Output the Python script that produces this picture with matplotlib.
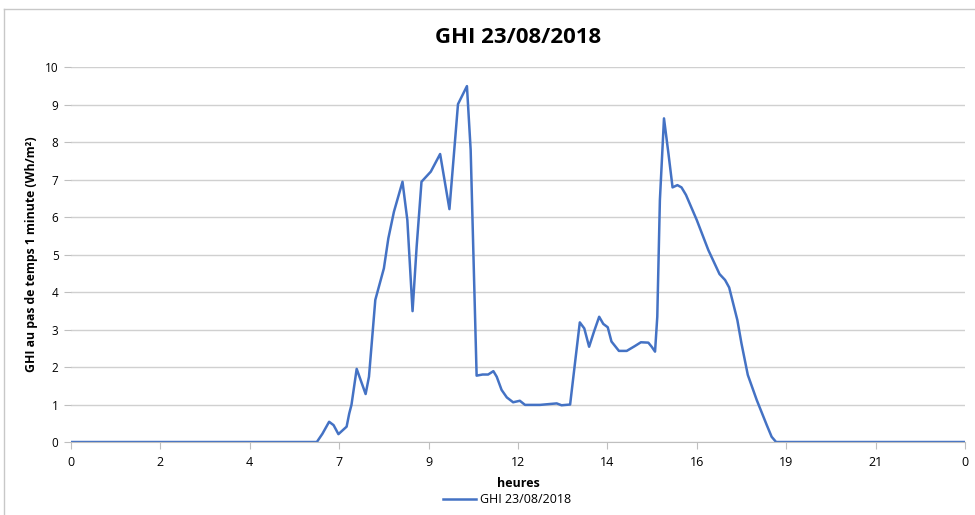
import matplotlib
matplotlib.use("Agg")
import matplotlib.pyplot as plt
from matplotlib.lines import Line2D
from matplotlib import font_manager

# GHI values (Wh/m2 per minute), time in hours
heures = [0.0, 6.60, 6.75, 6.93, 7.05, 7.18, 7.40, 7.47, 7.53, 7.67, 7.91,
          8.00, 8.17, 8.40, 8.52, 8.67, 8.90, 9.03, 9.17, 9.28, 9.41, 9.66,
          9.91, 10.16, 10.29, 10.39, 10.63, 10.73, 10.89, 11.05, 11.20, 11.34,
          11.43, 11.56, 11.70, 11.87, 12.05, 12.19, 12.59, 13.04, 13.17,
          13.40, 13.53, 13.66, 13.78, 13.91, 14.04, 14.18, 14.29, 14.41,
          14.51, 14.71, 14.92, 15.14, 15.30, 15.50, 15.59, 15.68, 15.74,
          15.81, 15.92, 16.04, 16.15, 16.28, 16.39, 16.51, 16.80, 17.11,
          17.41, 17.56, 17.67, 17.89, 18.00, 18.17, 18.41, 18.68, 18.81,
          18.93, 24.0]
ghi = [0.0, 0.0, 0.22, 0.54, 0.45, 0.21, 0.41, 0.76, 0.99, 1.95, 1.28,
       1.74, 3.79, 4.63, 5.43, 6.14, 6.94, 5.92, 3.49, 5.21, 6.94, 7.21,
       7.68, 6.21, 7.79, 9.01, 9.49, 7.79, 1.77, 1.80, 1.80, 1.89,
       1.74, 1.39, 1.19, 1.06, 1.10, 0.99, 0.99, 1.03, 0.98,
       1.00, 2.10, 3.19, 3.03, 2.54, 2.94, 3.34, 3.15, 3.06,
       2.68, 2.43, 2.43, 2.56, 2.66, 2.65, 2.54, 2.41, 3.34,
       6.45, 8.63, 7.69, 6.79, 6.85, 6.79, 6.59, 5.92, 5.12,
       4.48, 4.32, 4.12, 3.25, 2.63, 1.79, 1.12, 0.45, 0.14,
       0.0, 0.0]

tick_pos = [0, 2.4, 4.8, 7.2, 9.6, 12, 14.4, 16.8, 19.2, 21.6, 24]
tick_labels = ['0', '2', '4', '7', '9', '12', '14', '16', '19', '21', '0']

installed = {f.name for f in font_manager.fontManager.ttflist}
narrow = [f for f in ['Liberation Sans Narrow', 'DejaVu Sans Condensed']
          if f in installed] + ['Open Sans', 'DejaVu Sans']
plt.rcParams['font.family'] = ['Open Sans', 'DejaVu Sans']

fig = plt.figure(figsize=(9.75, 5.15), dpi=100)
ax = fig.add_axes([0.0728, 0.1417, 0.9169, 0.7282])

ax.plot(heures, ghi, color='#4472C4', linewidth=1.8, label='GHI 23/08/2018')

ax.set_xlim(0, 24)
ax.set_ylim(0, 10)
ax.set_yticks(range(0, 11))
ax.set_xticks(tick_pos)
ax.set_xticklabels(tick_labels, family=narrow)
ax.tick_params(axis='y', length=5, color='#bfbfbf', labelsize=8.5, pad=4)
ax.tick_params(axis='x', length=5, color='#bfbfbf', labelsize=9, pad=5)
ax.grid(axis='y', color='#d0d0d0', linewidth=1)
ax.set_axisbelow(True)
for s in ['top', 'right', 'left']:
    ax.spines[s].set_visible(False)
ax.spines['bottom'].set_color('#bfbfbf')

ax.set_title('GHI 23/08/2018', fontsize=16, fontweight='bold',
             family=narrow, pad=17)
ax.set_xlabel('heures', fontsize=9, fontweight='bold', family=narrow,
              labelpad=6)
ax.set_ylabel('GHI au pas de temps 1 minute (Wh/m²)', fontsize=8.8,
              fontweight='bold', labelpad=5)

fig.legend(loc='center', bbox_to_anchor=(0.52, 0.03), frameon=False,
           prop={'family': narrow, 'size': 9}, handlelength=2.6,
           handletextpad=0.3)

# chart area border
fig.add_artist(Line2D([0.004, 1.0], [0.982, 0.982], color='#c8c8c8', lw=1))
fig.add_artist(Line2D([0.004, 0.004], [0.0, 0.982], color='#c8c8c8', lw=1))

fig.savefig('out.png', dpi=100)
